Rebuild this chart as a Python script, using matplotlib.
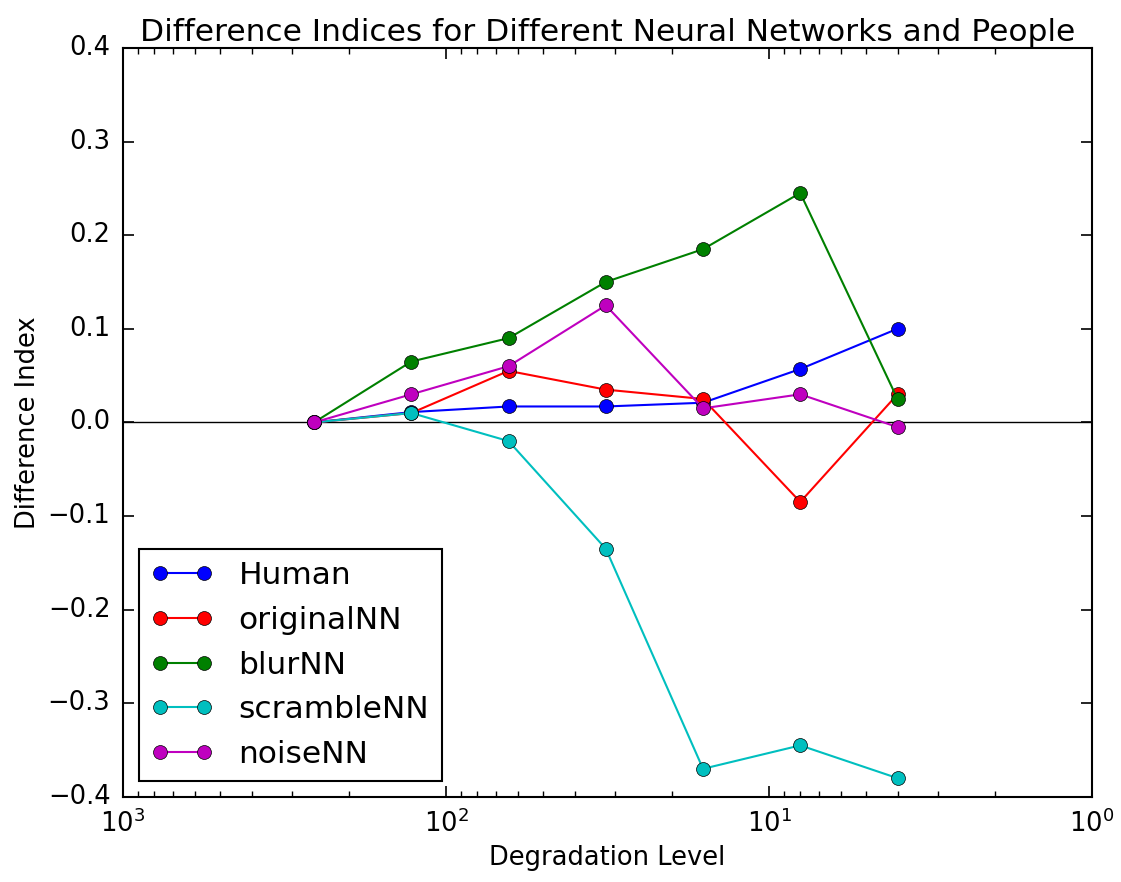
import matplotlib
matplotlib.use("Agg")
import matplotlib.pyplot as plt

# niveis de degradacao (eixo x, log invertido)
niveis = [256, 128, 64, 32, 16, 8, 4]

# indices de diferenca por rede / pessoas
human = [0.0, 0.011, 0.017, 0.017, 0.021, 0.057, 0.100]
original_nn = [0.0, 0.010, 0.055, 0.035, 0.025, -0.085, 0.030]
blur_nn = [0.0, 0.065, 0.090, 0.150, 0.185, 0.245, 0.025]
scramble_nn = [0.0, 0.010, -0.020, -0.135, -0.370, -0.345, -0.380]
noise_nn = [0.0, 0.030, 0.060, 0.125, 0.015, 0.030, -0.005]

series = [
    ("Human", human, "b"),
    ("originalNN", original_nn, "r"),
    ("blurNN", blur_nn, "g"),
    ("scrambleNN", scramble_nn, "c"),
    ("noiseNN", noise_nn, "m"),
]

plt.style.use("classic")
plt.rcParams["font.size"] = 18.5

fig = plt.figure(figsize=(11.21, 8.82), dpi=100)
ax = fig.add_axes([0.1097, 0.0965, 0.8644, 0.8492])

ax.axhline(0, color="k", linewidth=1.0)

for nome, valores, cor in series:
    ax.plot(niveis, valores, marker="o", color=cor, linewidth=1.5,
            markersize=10, label=nome)

ax.set_xscale("log")
ax.set_xlim(1000, 1)
ax.set_ylim(-0.4, 0.4)
ax.set_yticks([-0.4, -0.3, -0.2, -0.1, 0.0, 0.1, 0.2, 0.3, 0.4])

for s in ax.spines.values():
    s.set_linewidth(1.5)
ax.tick_params(which="major", length=8, width=1.2, pad=9)
ax.tick_params(which="minor", length=4, width=1.0)

ax.set_title("Difference Indices for Different Neural Networks and People",
             fontsize=22.5)
ax.set_xlabel("Degradation Level")
ax.set_ylabel("Difference Index")

leg = ax.legend(loc="lower left", fontsize=22.5, numpoints=2)
leg.get_frame().set_linewidth(1.5)

fig.savefig("out.png", dpi=100)
